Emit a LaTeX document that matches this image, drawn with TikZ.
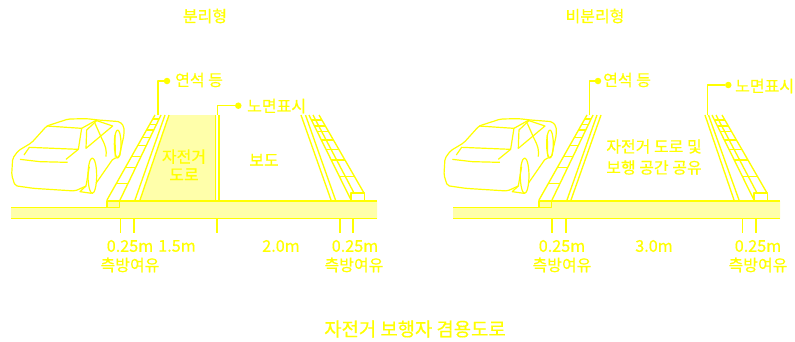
\documentclass[tikz,border=0pt]{standalone}
\usepackage{fontspec}
\setmainfont[FakeBold=0.5]{Noto Sans CJK KR}
\definecolor{yl}{HTML}{FFFF00}
\definecolor{ylfill}{HTML}{FFFFAA}
\tikzset{
  ln/.style={draw=yl,line width=1.35pt,line join=round},
  thin ln/.style={draw=yl,line width=1.1pt},
  lbl/.style={text=yl,font=\fontsize{16}{18}\selectfont,inner sep=0pt,align=center},
  dim/.style={text=yl,font=\fontsize{16.2}{18}\selectfont,inner sep=0pt},
  dot/.style={fill=yl,circle,inner sep=0pt,minimum size=6.5pt}
}
\newcommand{\carshape}[1]{%
\begin{scope}[x=0.33333pt,y=-0.33333pt,xshift=#1pt,yshift=-60pt]
 \draw[ln,line width=1.2pt,rounded corners=2pt] (258,378)--(225,393)--(100,385)--(45,377)--(35,345)--(38,295)--(55,272)--(95,248)--(140,198)--(205,177)--(260,176)--(295,180)--(360,185)--(372,200)--(372,225)--(362,270)--(358,292)--(340,295)--(288,370);
 \draw[ln,line width=1.2pt] (140,198)--(245,205)--(290,180);
 \draw[ln,line width=1.2pt] (72,285)--(88,262)--(235,268)--(245,205);
 \draw[ln,line width=1.2pt] (60,298)--(120,305)--(203,307);
 \draw[ln,line width=1.2pt] (198,298)--(235,268);
 \draw[ln,line width=1.2pt] (260,210)--(258,265)--(338,198)--(290,182)--cycle;
 \draw[ln,line width=1.2pt] (285,190)--(305,235) .. controls (318,260) and (320,270) .. (318,290);
 \draw[ln,line width=1.2pt] (353,252) ellipse [x radius=10,y radius=42];
 \draw[ln,line width=1.2pt] (345,225)--(346,290);
 \draw[ln,line width=1.2pt] (277,347) ellipse [x radius=13,y radius=53];
 \draw[ln,line width=1.2pt] (268,320)--(258,378)--(240,395)--(275,400);
\end{scope}}
\begin{document}
\begin{tikzpicture}[x=1pt,y=-1pt]
\useasboundingbox (0,0) rectangle (795,341);
% ---------- left panel ----------
\fill[ylfill] (11,207.5)--(107,207.5)--(107,201)--(377,201)--(377,218.5)--(11,218.5)--cycle;
\fill[ylfill] (140,200)--(169,115)--(216,115)--(216,200)--cycle;
\draw[ln] (11,207.5)--(119.5,207.5)--(119.5,201);
\draw[ln] (107,207.5)--(107,201)--(377,201);
\draw[ln] (11,218.5)--(377,218.5);
\draw[ln] (107,200)--(155,115);
\draw[ln] (120,200)--(161,115);
\draw[ln] (135,200)--(165,115);
\draw[ln] (140,200)--(169,115);
\draw[thin ln] (215.5,115)--(215.5,200);
\draw[ln] (219,115)--(219,200);
\foreach \y in {183.3,167.3,156.7,145.7,137.7,130,124.3,119}{
  \pgfmathsetmacro\xa{107+(200-\y)*48/85}
  \pgfmathsetmacro\xb{120+(200-\y)*41/85}
  \draw[thin ln] (\xa,\y)--(\xb,\y);}
\draw[ln] (301,115)--(331,200);
\draw[ln] (305.5,115)--(335.5,200);
\draw[ln] (309,115)--(351,200);
\draw[ln] (313,115)--(354,193);
\draw[ln] (319,115)--(364,193);
\draw[ln] (351,201)--(351,193)--(364.5,193)--(364.5,201);
\foreach \y in {176.7,160,149.3,140,131.7,126,120}{
  \pgfmathsetmacro\xa{309+(\y-115)*42/85}
  \pgfmathsetmacro\xb{319+(\y-115)*45/78}
  \draw[thin ln] (\xa,\y)--(\xb,\y);}
\carshape{0}
\foreach \x in {120.7,134,217,340,353}{\draw[ln,line width=1.2pt] (\x,218.5)--(\x,233);}
\node[dot] (d1) at (167,81) {};
\coordinate (e1) at (158,115);
\draw[ln,line width=1.2pt] (e1)|-(d1);
\node[lbl,anchor=west] (t1) at (175,80) {연석 등};
\node[dot] (d2) at (238.3,105.7) {};
\coordinate (e2) at (217.3,115);
\draw[ln,line width=1.2pt] (e2)|-(d2);
\node[lbl,anchor=west] (t2) at (247,106) {노면표시};
\node[lbl] (a1) at (205,16) {분리형};
\node[lbl] (a2) at (184,165) {자전거\\도로};
\node[lbl] (a3) at (264,160) {보도};
\node[dim] (b1) at (130,246) {0.25m};
\node[dim] (b2) at (177,246) {1.5m};
\node[dim] (b3) at (281,246) {2.0m};
\node[dim] (b4) at (355,246) {0.25m};
\node[lbl] (c1) at (130,265) {측방여유};
\node[lbl] (c2) at (354,265) {측방여유};
% ---------- right panel ----------
\fill[ylfill] (453,207.5)--(539,207.5)--(539,201)--(780,201)--(780,218.5)--(453,218.5)--cycle;
\draw[ln] (453,207.5)--(551.5,207.5)--(551.5,201);
\draw[ln] (539,207.5)--(539,201)--(780,201);
\draw[ln] (453,218.5)--(780,218.5);
\draw[ln] (539,200)--(587,115);
\draw[ln] (552,200)--(593,115);
\draw[ln] (567,200)--(597,115);
\draw[ln] (571,200)--(601,115);
\foreach \y in {183.3,167.3,156.7,145.7,137.7,130,124.3,119}{
  \pgfmathsetmacro\xa{539+(200-\y)*48/85}
  \pgfmathsetmacro\xb{552+(200-\y)*41/85}
  \draw[thin ln] (\xa,\y)--(\xb,\y);}
\draw[ln] (705,115)--(734,200);
\draw[ln] (708.5,115)--(739,200);
\draw[ln] (712,115)--(754,200);
\draw[ln] (716,115)--(757,193);
\draw[ln] (722,115)--(767,193);
\draw[ln] (754,201)--(754,193)--(767.5,193)--(767.5,201);
\foreach \y in {176.7,160,149.3,140,131.7,126,120}{
  \pgfmathsetmacro\xa{712+(\y-115)*42/85}
  \pgfmathsetmacro\xb{722+(\y-115)*45/78}
  \draw[thin ln] (\xa,\y)--(\xb,\y);}
\carshape{432.3}
\foreach \x in {552,566,742.7,756}{\draw[ln,line width=1.2pt] (\x,218.5)--(\x,233);}
\node[dot] (d3) at (598,81) {};
\coordinate (e3) at (589.7,115);
\draw[ln,line width=1.2pt] (e3)|-(d3);
\node[lbl,anchor=west] (t3) at (603,80) {연석 등};
\node[dot] (d4) at (728.3,85) {};
\coordinate (e4) at (707.7,115);
\draw[ln,line width=1.2pt] (e4)|-(d4);
\node[lbl,anchor=west] (t4) at (735,86) {노면표시};
\node[lbl] (a4) at (595,16) {비분리형};
\node[lbl,font=\fontsize{16}{21}\selectfont] (a5) at (654,157) {자전거 도로 및\\보행 공간 공유};
\node[dim] (b5) at (562,246) {0.25m};
\node[dim] (b6) at (654,246) {3.0m};
\node[dim] (b7) at (758,246) {0.25m};
\node[lbl] (c3) at (562,265) {측방여유};
\node[lbl] (c4) at (758,265) {측방여유};
\node[lbl,font=\fontsize{18.8}{22}\selectfont] (z) at (415,329) {자전거 보행자 겸용도로};
\end{tikzpicture}
\end{document}
